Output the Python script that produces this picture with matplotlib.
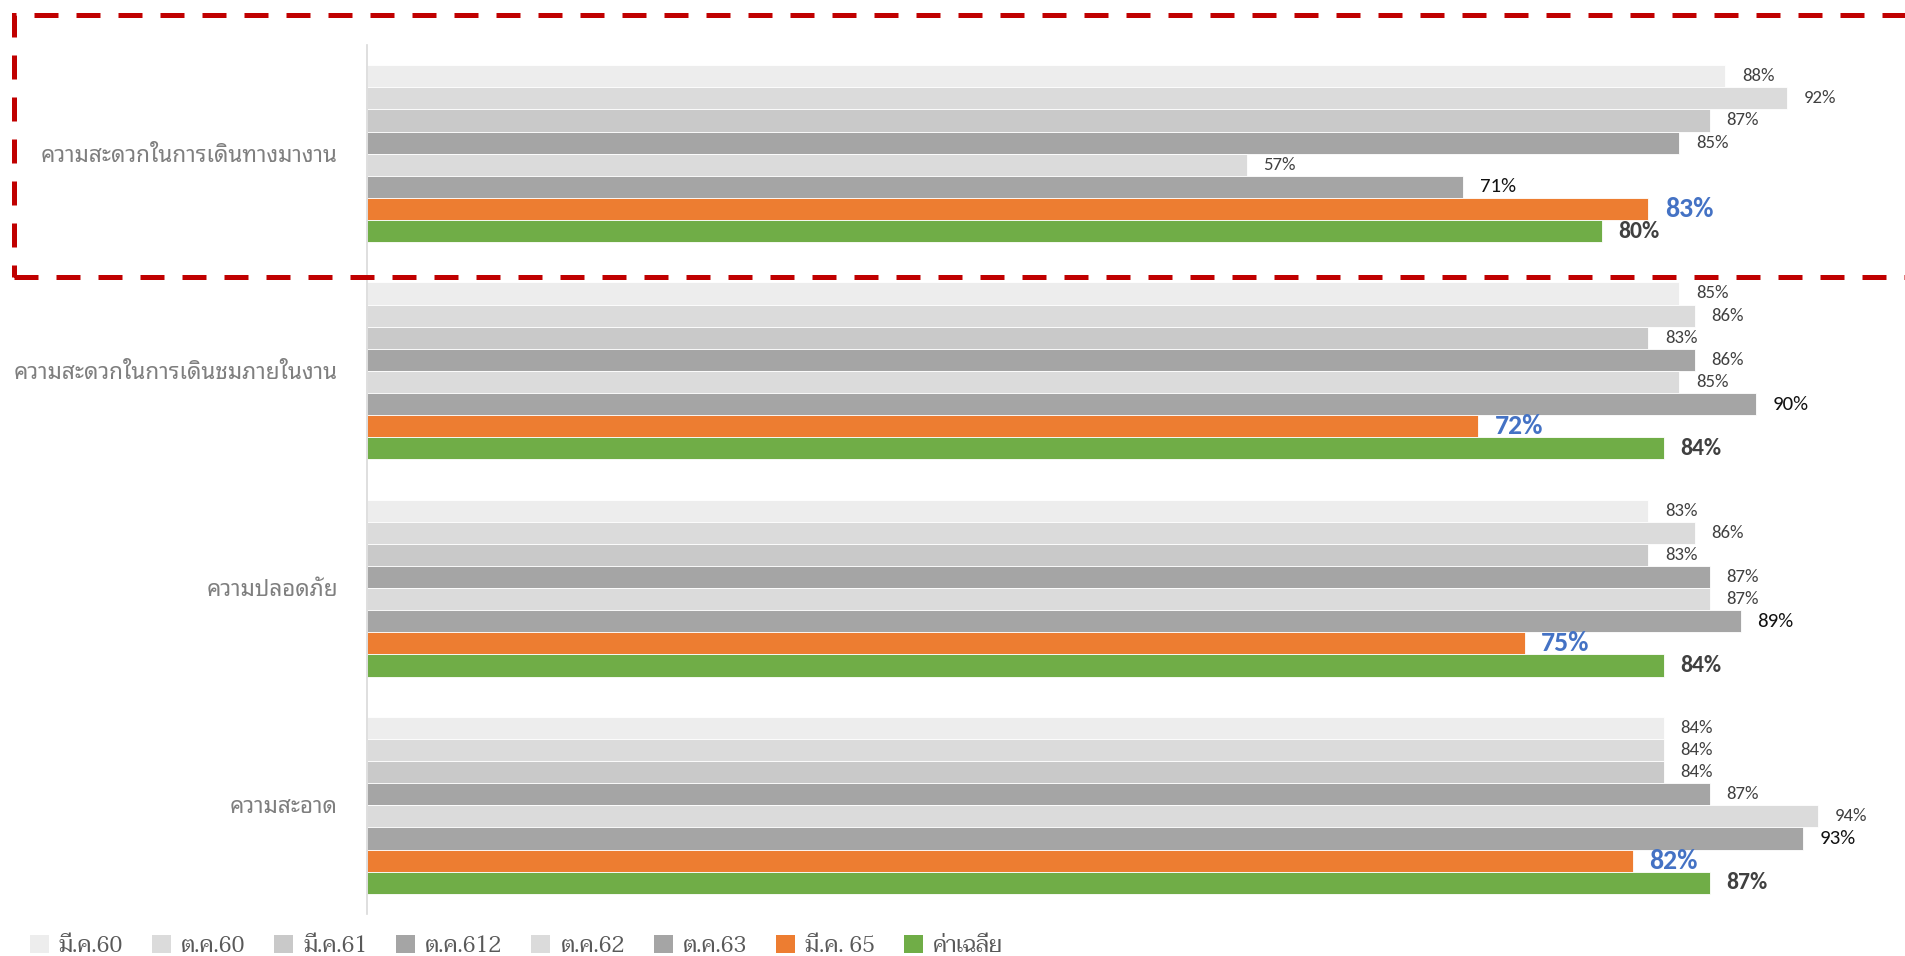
import matplotlib
matplotlib.use("Agg")
import matplotlib.pyplot as plt
import numpy as np
from matplotlib.patches import Patch, Rectangle
from matplotlib.font_manager import FontProperties


# 데이터
categories = ["ความสะดวกในการเดินทางมางาน", "ความสะดวกในการเดินชมภายในงาน",
              "ความปลอดภัย", "ความสะอาด"]
series_names = ["มี.ค.60", "ต.ค.60", "มี.ค.61", "ต.ค.612", "ต.ค.62", "ต.ค.63", "มี.ค. 65", "ค่าเฉลี่ย"]
mar60 = [88, 85, 83, 84]
oct60 = [92, 86, 86, 84]
mar61 = [87, 83, 83, 84]
oct612 = [85, 86, 87, 87]
oct62 = [57, 85, 87, 94]
oct63 = [71, 90, 89, 93]
mar65 = [83, 72, 75, 82]
average = [80, 84, 84, 87]

colors = ["#EDEDED", "#DBDBDB", "#C9C9C9", "#A5A5A5", "#DBDBDB", "#A5A5A5", "#ED7D31", "#70AD47"]

# 라벨 스타일 (크기, 색, 굵기)
label_styles = [(13.5, "#404040", "normal")] * 5 + [
    (15, "#111111", "normal"),
    (20, "#4472C4", "bold"),
    (17, "#404040", "bold"),
]

num_font = ["Carlito", "Lato", "DejaVu Sans"]
thai_font = ["Noto Sans Thai Looped", "Sarabun", "Noto Sans Thai", "DejaVu Sans"]
legend_font = ["Taviraj", "Trirong", "Sarabun", "DejaVu Sans"]

W, H = 1906, 956
fig = plt.figure(figsize=(W / 100, H / 100), dpi=100)
ax = fig.add_axes([367 / W, 1 - 914 / H, (W - 367) / W, (914 - 45) / H])

all_series = [mar60, oct60, mar61, oct612, oct62, oct63, mar65, average]
n = len(all_series)
h = 0.1018
y = np.arange(len(categories))

for j, vals in enumerate(all_series):
    pos = y + (j - (n - 1) / 2) * h
    ax.barh(pos, vals, height=h, color=colors[j], edgecolor="white", linewidth=0.6)
    size, col, weight = label_styles[j]
    for v, p in zip(vals, pos):
        ax.annotate(f"{v}%", xy=(v, p), xytext=(12, 0), textcoords="offset points",
                    va="center", ha="left", fontsize=size, color=col,
                    fontweight=weight, family=num_font)

ax.set_xlim(0, 99.7)
ax.set_ylim(len(categories) - 0.5, -0.5)
ax.set_xticks([])
ax.set_yticks(y)
ax.set_yticklabels(categories, family=thai_font, fontsize=16.2, color="#7F7F7F")
ax.tick_params(axis="y", length=0, pad=21)
for s in ["top", "right", "bottom"]:
    ax.spines[s].set_visible(False)
ax.spines["left"].set_color("#D9D9D9")
ax.spines["left"].set_linewidth(1.2)

# 범례
handles = [Patch(facecolor=c, edgecolor="none") for c in colors]
fig.legend(handles, series_names, loc="center left", bbox_to_anchor=(30 / W, 1 - 946 / H),
           ncol=8, frameon=False, prop=FontProperties(family=legend_font, size=16),
           handlelength=0.85, handleheight=0.85, handletextpad=0.45, columnspacing=1.3,
           labelcolor="#595959", borderaxespad=0, borderpad=0)

# 빨간 점선 박스
rect = Rectangle((14 / W, 1 - 277 / H), (1940 - 14) / W, (277 - 15) / H,
                 transform=fig.transFigure, fill=False, edgecolor="#C00000",
                 linewidth=3.6, linestyle=(0, (4.8, 3.6)), clip_on=False)
fig.patches.append(rect)

fig.savefig("out.png", dpi=100)
